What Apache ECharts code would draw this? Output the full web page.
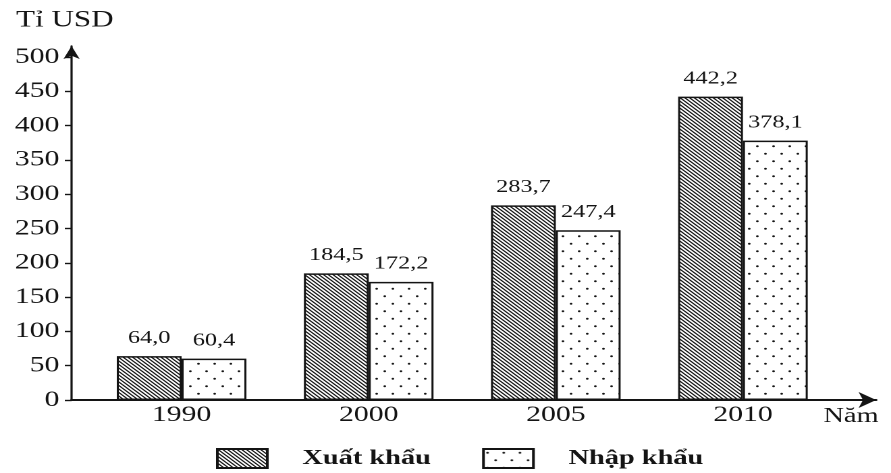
<!DOCTYPE html>
<html>
<head>
<meta charset="utf-8">
<script src="https://cdn.jsdelivr.net/npm/echarts@6/dist/echarts.min.js"></script>
<style>
  html, body { margin: 0; padding: 0; background: #fff; overflow: hidden; }
  /* the scanned figure is stretched sideways, so the chart is drawn narrower and widened */
  #main { width: 660px; height: 473px; transform: scaleX(1.35); transform-origin: 0 0; }
</style>
</head>
<body>
<div id="main"></div>
<script>
const years = ['1990', '2000', '2005', '2010']
const exportValues = [64.0, 184.5, 283.7, 442.2]
const importValues = [60.4, 172.2, 247.4, 378.1]
const yTicks = [0, 50, 100, 150, 200, 250, 300, 350, 400, 450, 500]

const ink = '#141414'
const serif = '"Liberation Serif", "Times New Roman", serif'

// hatch tile: diagonal lines, drawn at 2x then scaled back
function hatchPattern() {
  const c = document.createElement('canvas')
  c.width = 14
  c.height = 14
  const ctx = c.getContext('2d')
  ctx.fillStyle = '#fff'
  ctx.fillRect(0, 0, 14, 14)
  ctx.strokeStyle = ink
  ctx.lineWidth = 2.2
  for (let x = -14; x <= 14; x += 7) {
    ctx.beginPath()
    ctx.moveTo(x - 14, -14)
    ctx.lineTo(x + 28, 28)
    ctx.stroke()
  }
  return { image: c, repeat: 'repeat', scaleX: 0.5, scaleY: 0.5 }
}

// dotted tile: staggered dots
function dotPattern() {
  const c = document.createElement('canvas')
  c.width = 24
  c.height = 30
  const ctx = c.getContext('2d')
  ctx.fillStyle = '#fff'
  ctx.fillRect(0, 0, 24, 30)
  ctx.fillStyle = ink
  ;[[6, 7.5], [18, 22.5]].forEach(([x, y]) => {
    ctx.beginPath()
    ctx.arc(x, y, 2, 0, Math.PI * 2)
    ctx.fill()
  })
  return { image: c, repeat: 'repeat', scaleX: 0.5, scaleY: 0.5 }
}

const myChart = echarts.init(document.getElementById('main'), null, { devicePixelRatio: 2 })

const fmt = p => p.value[1].toFixed(1).replace('.', ',')

const option = {
  animation: false,
  backgroundColor: '#fff',
  textStyle: { fontFamily: serif, color: ink },
  grid: { left: 53, right: 11, top: 46, bottom: 73 },
  legend: {
    left: 155,
    top: 443,
    icon: 'rect',
    itemWidth: 37,
    itemHeight: 19,
    itemGap: 38,
    textStyle: { fontFamily: serif, fontSize: 21, fontWeight: 'bold', color: ink, padding: [0, 0, 0, 21] },
    data: ['Xuất khẩu', 'Nhập khẩu']
  },
  xAxis: {
    type: 'value',
    min: -0.588,
    max: 3.712,
    name: 'Năm',
    nameLocation: 'end',
    nameGap: -39,
    nameTextStyle: { fontSize: 21, color: ink, align: 'left', verticalAlign: 'top', padding: [6, 0, 0, 0] },
    axisLine: { onZero: false, lineStyle: { color: ink, width: 2 }, symbol: ['none', 'arrow'], symbolSize: [12, 13] },
    axisTick: { show: false },
    splitLine: { show: false },
    axisLabel: {
      customValues: years.map((y, i) => i),
      formatter: v => years[v],
      fontSize: 22,
      color: ink,
      margin: 4
    }
  },
  yAxis: {
    type: 'value',
    min: 0,
    max: 516,
    name: 'Tỉ USD',
    nameLocation: 'end',
    nameGap: 14,
    nameTextStyle: { fontSize: 23, color: ink, align: 'center', padding: [0, 10, 0, 0] },
    axisLine: { onZero: false, lineStyle: { color: ink, width: 1.6 }, symbol: ['none', 'arrow'], symbolSize: [9, 13] },
    axisTick: { customValues: yTicks, length: 5, lineStyle: { color: ink, width: 1.4 } },
    splitLine: { show: false },
    axisLabel: { customValues: yTicks, fontSize: 22, color: ink, margin: 9 }
  },
  series: [
    {
      name: 'Xuất khẩu',
      type: 'bar',
      barWidth: 48,
      barGap: '0%',
      data: exportValues.map((v, i) => [i, v]),
      itemStyle: { color: hatchPattern(), borderColor: ink, borderWidth: 1.5 },
      label: { show: true, position: 'top', distance: 9, fontSize: 18, color: ink, fontFamily: serif, formatter: fmt }
    },
    {
      name: 'Nhập khẩu',
      type: 'bar',
      barWidth: 48,
      barGap: '0%',
      data: importValues.map((v, i) => [i, v]),
      itemStyle: { color: dotPattern(), borderColor: ink, borderWidth: 1.5 },
      label: { show: true, position: 'top', distance: 9, fontSize: 18, color: ink, fontFamily: serif, formatter: fmt }
    }
  ]
}
myChart.setOption(option)
</script>
</body>
</html>
